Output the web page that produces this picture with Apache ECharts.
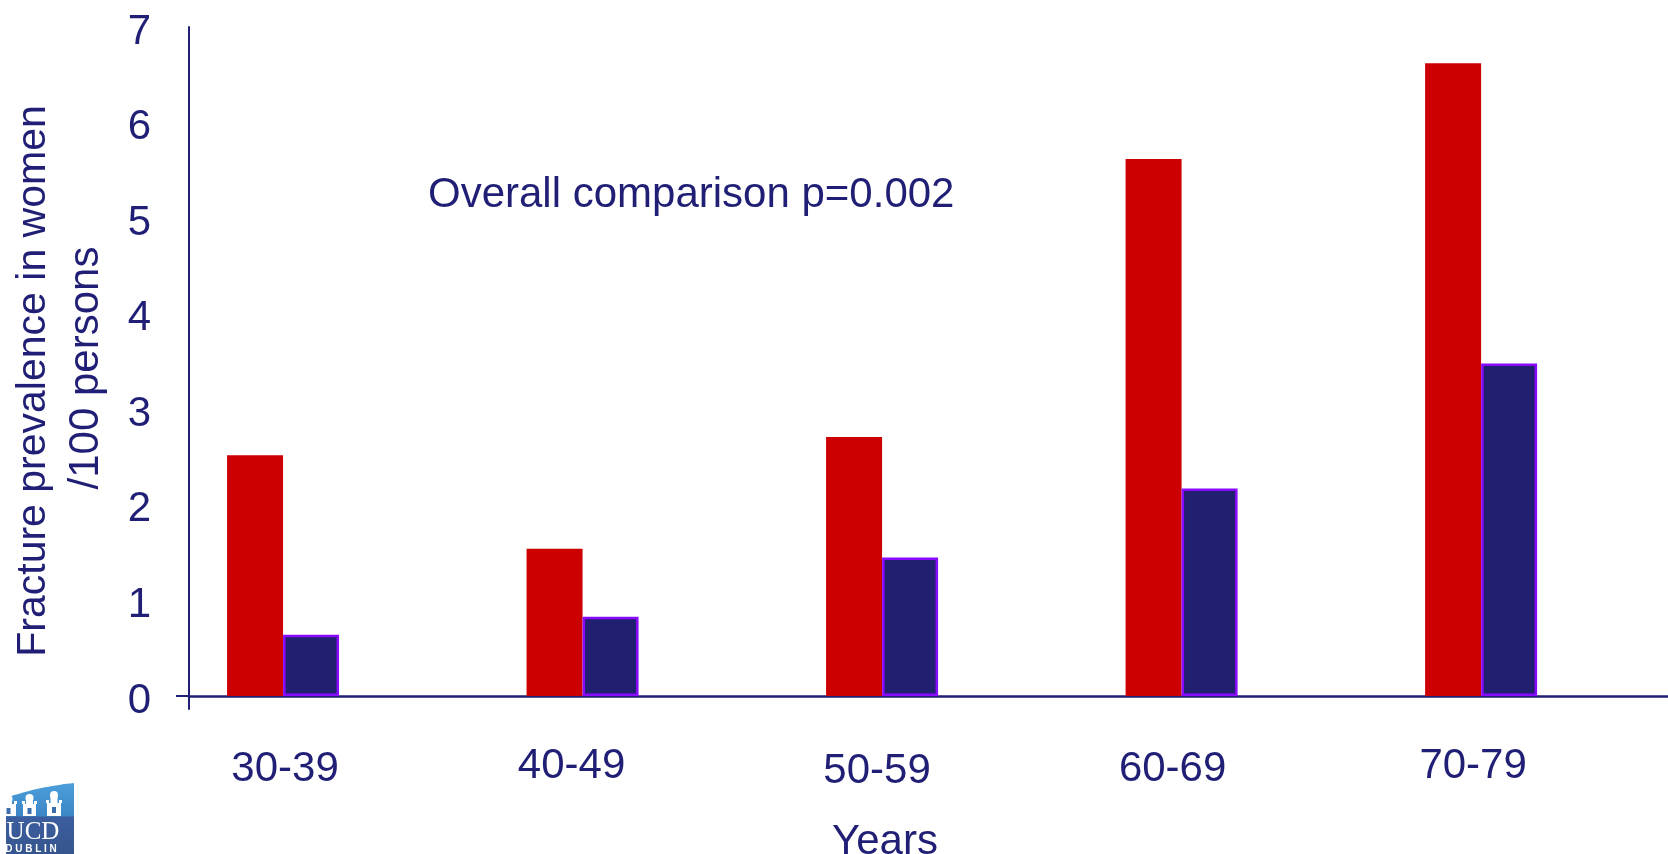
<!DOCTYPE html>
<html>
<head>
<meta charset="utf-8">
<title>Fracture prevalence in women</title>
<script src="https://cdn.jsdelivr.net/npm/echarts@6/dist/echarts.min.js"></script>
<style>
  html, body { margin: 0; padding: 0; background: #ffffff; }
  #chart { width: 1668px; height: 854px; }
</style>
</head>
<body>
<div id="chart"></div>
<script>
// Age bands and fracture prevalence per 100 women
const categories = ['30-39', '40-49', '50-59', '60-69', '70-79'];
const redValues = [2.52, 1.54, 2.71, 5.62, 6.62];
const navyValues = [0.64, 0.83, 1.45, 2.17, 3.48];
const yTickValues = [0, 1, 2, 3, 4, 5, 6, 7];
const categoryIndex = categories.map((c, i) => i);

// small per-label nudges for the age-band labels: [dx, extra top padding]
const labelNudge = [[2, 3], [-11, 0], [-5, 5], [-9, 3], [-8, 0]];

const INK = '#201F75';
const FONT = '"Liberation Sans", Arial, Helvetica, sans-serif';

const chart = echarts.init(document.getElementById('chart'), null, { renderer: 'canvas' });

const rich = {};
labelNudge.forEach(([dx, top], i) => {
  rich['c' + i] = {
    fontSize: 42,
    fontFamily: FONT,
    color: INK,
    padding: [top, dx < 0 ? -dx * 2 : 0, 0, dx > 0 ? dx * 2 : 0]
  };
});

// white castle tower for the badge
function tower(x, w, bodyTop, domeTop) {
  const cx = x + w / 2;
  return [
    { type: 'rect', shape: { x: x, y: bodyTop, width: w, height: 33 - bodyTop }, style: { fill: '#ffffff' } },
    { type: 'rect', shape: { x: x - 1, y: bodyTop - 3, width: 3, height: 3 }, style: { fill: '#ffffff' } },
    { type: 'rect', shape: { x: cx - 1.5, y: bodyTop - 3, width: 3, height: 3 }, style: { fill: '#ffffff' } },
    { type: 'rect', shape: { x: x + w - 2, y: bodyTop - 3, width: 3, height: 3 }, style: { fill: '#ffffff' } },
    { type: 'rect', shape: { x: cx - 3.5, y: domeTop + 4, width: 7, height: bodyTop - domeTop - 4 }, style: { fill: '#ffffff' } },
    { type: 'circle', shape: { cx: cx, cy: domeTop + 4, r: 4 }, style: { fill: '#ffffff' } },
    { type: 'rect', shape: { x: cx - 2, y: bodyTop + 4, width: 4, height: 6 }, style: { fill: '#3b6eae' } }
  ];
}

// badge outline: curved top edge from (0,15) rising to (68,0)
const badgeOutline = [];
for (let k = 0; k <= 20; k++) {
  const t = k / 20;
  const x = 2 * (1 - t) * t * 30 + t * t * 68;
  const y = (1 - t) * (1 - t) * 15 + 2 * (1 - t) * t * 4;
  badgeOutline.push([x, y]);
}
badgeOutline.push([68, 72], [0, 72]);

const option = {
  animation: false,
  backgroundColor: '#ffffff',
  title: {
    text: 'Overall comparison p=0.002',
    left: 428,
    top: 174,
    padding: 0,
    textStyle: { color: INK, fontSize: 42, fontWeight: 'normal', fontFamily: FONT }
  },
  grid: {
    left: 189,
    top: 27,
    width: 1479,
    height: 682,
    containLabel: false,
    outerBoundsMode: 'none'
  },
  xAxis: {
    type: 'value',
    min: -0.314,
    max: 4.624,
    name: 'Years',
    nameLocation: 'middle',
    nameGap: 112,
    nameTextStyle: { color: INK, fontSize: 42, fontFamily: FONT, padding: [0, 87, 0, 0] },
    axisLine: { show: true, onZero: true, lineStyle: { color: INK, width: 2.5 } },
    axisTick: { show: false },
    splitLine: { show: false },
    axisLabel: {
      customValues: categoryIndex,
      margin: 36,
      formatter: v => {
        const i = Math.round(v);
        return '{c' + i + '|' + categories[i] + '}';
      },
      rich: rich
    }
  },
  yAxis: {
    type: 'value',
    min: -0.136,
    max: 7,
    name: '{a|Fracture prevalence in women}\n{b|/100 persons}',
    nameLocation: 'middle',
    nameGap: 76,
    nameRotate: 90,
    nameTextStyle: {
      color: INK, fontSize: 42, fontFamily: FONT, lineHeight: 53, align: 'center',
      rich: {
        a: { color: INK, fontSize: 41, fontFamily: FONT, lineHeight: 53, padding: [0, 26, 0, 0] },
        b: { color: INK, fontSize: 42, fontFamily: FONT, lineHeight: 53 }
      }
    },
    axisLine: { show: true, onZero: false, lineStyle: { color: INK, width: 2 } },
    axisTick: { show: true, customValues: [0], length: 13, inside: false, lineStyle: { color: INK, width: 2 } },
    splitLine: { show: false },
    axisLabel: {
      customValues: yTickValues,
      margin: 38,
      formatter: v => '{v|' + v + '}',
      rich: {
        v: { color: INK, fontSize: 42, fontFamily: FONT, padding: [10, 0, 0, 0] }
      }
    }
  },
  series: [
    {
      name: 'Series 1',
      type: 'bar',
      barWidth: 56,
      barGap: '0%',
      itemStyle: { color: '#CC0000' },
      data: redValues.map((v, i) => [i, v])
    },
    {
      name: 'Series 2',
      type: 'bar',
      barWidth: 56,
      barGap: '0%',
      itemStyle: { color: '#201F70', borderColor: '#8A0AFF', borderWidth: 2.5 },
      data: navyValues.map((v, i) => [i, v])
    }
  ],
  graphic: [
    {
      // UCD Dublin badge in the lower-left corner
      type: 'group',
      left: 0,
      top: 783,
      children: [
        {
          type: 'polygon',
          shape: { points: badgeOutline },
          style: {
            fill: new echarts.graphic.LinearGradient(0, 0, 0, 1, [
              { offset: 0, color: '#4d9fdc' },
              { offset: 0.46, color: '#3b86c6' },
              { offset: 0.47, color: '#3c5e9e' },
              { offset: 1, color: '#36558f' }
            ])
          }
        },
        ...tower(-5, 15, 21, 12),
        ...tower(17, 13, 21, 11),
        ...tower(41, 14, 20, 8),
        {
          type: 'text',
          style: { text: 'UCD', x: 27, y: 37, align: 'center', fill: '#ffffff', fontSize: 25, fontFamily: '"Liberation Serif", "DejaVu Serif", serif' }
        },
        {
          type: 'text',
          style: { text: 'D U B L I N', x: 25, y: 61, align: 'center', fill: '#ffffff', fontSize: 10, fontWeight: 'bold', fontFamily: FONT }
        }
      ]
    }
  ]
};

chart.setOption(option);
</script>
</body>
</html>
